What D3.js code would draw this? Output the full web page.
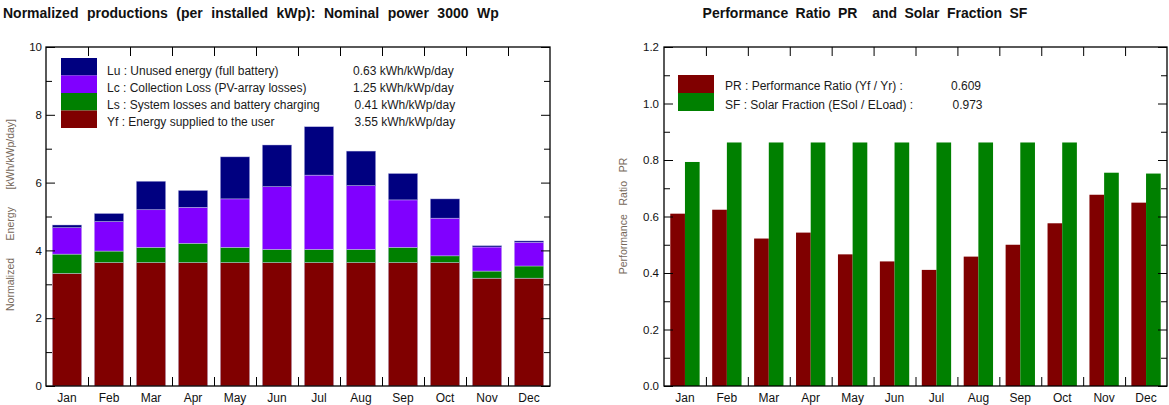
<!DOCTYPE html>
<html>
<head>
<meta charset="utf-8">
<script src="https://cdn.jsdelivr.net/npm/d3@7"></script>
<style>
  html, body { margin: 0; padding: 0; background: #fff; }
  svg { display: block; font-family: "Liberation Sans", Arial, sans-serif; }
  .axis path { display: none; }
  .axis line { stroke: #000; stroke-width: 1; }
  .axis text { font-size: 11.5px; fill: #111; }
</style>
</head>
<body>
<svg id="chart" width="1169" height="405"></svg>
<script>
// Monthly categories
const months = ["Jan","Feb","Mar","Apr","May","Jun","Jul","Aug","Sep","Oct","Nov","Dec"];

// Normalized productions, kWh/kWp/day (stacked from bottom to top)
const yf = [3.32, 3.64, 3.64, 3.64, 3.64, 3.64, 3.64, 3.64, 3.64, 3.64, 3.18, 3.18];
const ls = [0.57, 0.34, 0.45, 0.57, 0.45, 0.39, 0.39, 0.39, 0.45, 0.20, 0.21, 0.36];
const lc = [0.78, 0.87, 1.11, 1.06, 1.43, 1.85, 2.19, 1.88, 1.40, 1.11, 0.71, 0.70];
const lu = [0.08, 0.24, 0.84, 0.50, 1.24, 1.23, 1.43, 1.02, 0.78, 0.57, 0.04, 0.04];

// Performance ratio and solar fraction
const pr = [0.610, 0.624, 0.522, 0.543, 0.466, 0.441, 0.411, 0.458, 0.500, 0.576, 0.677, 0.649];
const sf = [0.793, 0.862, 0.862, 0.862, 0.862, 0.862, 0.862, 0.862, 0.862, 0.862, 0.755, 0.752];

// Legend entries
const stackLegend = [
  { key: "lu", label: "Lu : Unused energy (full battery)", value: "0.63 kWh/kWp/day", color: "#000080" },
  { key: "lc", label: "Lc : Collection Loss (PV-array losses)", value: "1.25 kWh/kWp/day", color: "#8000ff" },
  { key: "ls", label: "Ls : System losses and battery charging", value: "0.41 kWh/kWp/day", color: "#008000" },
  { key: "yf", label: "Yf : Energy supplied to the user", value: "3.55 kWh/kWp/day", color: "#800000" }
];
const ratioLegend = [
  { label: "PR : Performance Ratio (Yf / Yr) :", value: "0.609", color: "#800000" },
  { label: "SF : Solar Fraction (ESol / ELoad) :", value: "0.973", color: "#008000" }
];

const yTicksLeft = [0, 2, 4, 6, 8, 10];
const yMinorLeft = [1, 3, 5, 7, 9];
const yTicksRight = [0, 0.2, 0.4, 0.6, 0.8, 1.0, 1.2];
const yMinorRight = [0.1, 0.3, 0.5, 0.7, 0.9, 1.1];

const svg = d3.select("#chart");
const axisLabelColor = "#76685a";
const legendFont = 12;

// Frame with inward ticks on all four sides
function drawFrame(g, x0, x1, y, majors, minors, fmt, pad) {
  const top = y.range()[1], bot = y.range()[0];
  const xb = d3.scaleLinear().domain([0, 12]).range([x0, x1]);
  const inner = d3.range(1, 12);

  g.append("g").attr("class", "axis").attr("transform", `translate(${x0},0)`)
    .call(d3.axisLeft(y).tickValues(majors).tickSize(-9).tickPadding(pad).tickFormat(fmt));
  g.append("g").attr("class", "axis").attr("transform", `translate(${x0},0)`)
    .call(d3.axisLeft(y).tickValues(minors).tickSize(-6).tickFormat(""));
  g.append("g").attr("class", "axis").attr("transform", `translate(${x1},0)`)
    .call(d3.axisRight(y).tickValues(majors).tickSize(-9).tickFormat(""));
  g.append("g").attr("class", "axis").attr("transform", `translate(${x1},0)`)
    .call(d3.axisRight(y).tickValues(minors).tickSize(-6).tickFormat(""));
  g.append("g").attr("class", "axis").attr("transform", `translate(0,${top})`)
    .call(d3.axisTop(xb).tickValues(inner).tickSize(-9).tickFormat(""));
  g.append("g").attr("class", "axis").attr("transform", `translate(0,${bot})`)
    .call(d3.axisBottom(xb).tickValues(inner).tickSize(-9).tickFormat(""));

  g.append("rect")
    .attr("x", x0).attr("y", top)
    .attr("width", x1 - x0).attr("height", bot - top)
    .attr("fill", "none").attr("stroke", "#000").attr("stroke-width", 1.3);
}

function monthLabels(g, x, bot) {
  g.append("g").attr("class", "axis").attr("transform", `translate(0,${bot})`)
    .call(d3.axisBottom(x).tickSize(0).tickPadding(7))
    .selectAll("text").attr("font-size", 12).style("font-size", "12px");
}

/* ---------- Left: normalized productions ---------- */
{
  const x0 = 46, x1 = 550, top = 47, bot = 386;
  const g = svg.append("g");
  const x = d3.scaleBand().domain(months).range([x0, x1]).paddingInner(0.3).paddingOuter(0.15);
  const y = d3.scaleLinear().domain([0, 10]).range([bot, top]);

  const rows = months.map((m, i) => ({ month: m, yf: yf[i], ls: ls[i], lc: lc[i], lu: lu[i] }));
  const stack = d3.stack().keys(["yf", "ls", "lc", "lu"])(rows);
  const colors = { yf: "#800000", ls: "#008000", lc: "#8000ff", lu: "#000080" };

  g.selectAll("g.layer").data(stack).join("g")
    .attr("class", "layer")
    .attr("fill", d => colors[d.key])
    .selectAll("rect").data(d => d).join("rect")
      .attr("x", d => x(d.data.month))
      .attr("width", x.bandwidth())
      .attr("y", d => y(d[1]))
      .attr("height", d => y(d[0]) - y(d[1]))
      .attr("stroke", "rgba(205,205,240,0.7)")
      .attr("stroke-width", 0.6);

  drawFrame(g, x0, x1, y, yTicksLeft, yMinorLeft, d3.format("d"), 4);
  monthLabels(g, x, bot);

  // Legend
  const boxX = 61, boxY = 58, boxW = 36, rowH = 17.5;
  stackLegend.forEach((d, i) => {
    g.append("rect").attr("x", boxX).attr("y", boxY + i * rowH)
      .attr("width", boxW).attr("height", rowH).attr("fill", d.color);
    g.append("text").attr("x", 107).attr("y", 74.5 + i * 17)
      .attr("font-size", legendFont).attr("fill", "#1a1a1a").text(d.label);
    g.append("text").attr("x", 353 + (i >= 2 ? 1.5 : 0)).attr("y", 74.5 + i * 17)
      .attr("font-size", legendFont).attr("fill", "#1a1a1a").text(d.value);
  });

  // Title
  g.append("text").attr("x", 3).attr("y", 18)
    .attr("font-size", 14).attr("font-weight", "bold").attr("fill", "#111")
    .style("word-spacing", "4.6px")
    .text("Normalized productions (per installed kWp):  Nominal power 3000 Wp");

  // Vertical axis label
  g.append("text")
    .attr("transform", "translate(13.5,215) rotate(-90)")
    .attr("text-anchor", "middle").attr("font-size", 10.5).attr("fill", axisLabelColor)
    .style("white-space", "pre").attr("xml:space", "preserve")
    .text("Normalized      Energy      [kWh/kWp/day]");
}

/* ---------- Right: performance ratio and solar fraction ---------- */
{
  const x0 = 664, x1 = 1167, top = 47, bot = 386;
  const g = svg.append("g");
  const x = d3.scaleBand().domain(months).range([x0, x1]).paddingInner(0.3).paddingOuter(0.15);
  const xs = d3.scaleBand().domain(["pr", "sf"]).range([0, x.bandwidth()]);
  const y = d3.scaleLinear().domain([0, 1.2]).range([bot, top]);

  const rows = months.map((m, i) => ({ month: m, pr: pr[i], sf: sf[i] }));
  const colors = { pr: "#800000", sf: "#008000" };

  g.selectAll("g.month").data(rows).join("g")
    .attr("class", "month")
    .attr("transform", d => `translate(${x(d.month)},0)`)
    .selectAll("rect").data(d => ["pr", "sf"].map(k => ({ key: k, value: d[k] }))).join("rect")
      .attr("x", d => xs(d.key))
      .attr("width", xs.bandwidth())
      .attr("y", d => y(d.value))
      .attr("height", d => bot - y(d.value))
      .attr("fill", d => colors[d.key]);

  drawFrame(g, x0, x1, y, yTicksRight, yMinorRight, d3.format(".1f"), 5);
  monthLabels(g, x, bot);

  // Legend
  const boxX = 678, boxY = 75, boxW = 36, rowH = 18;
  ratioLegend.forEach((d, i) => {
    g.append("rect").attr("x", boxX).attr("y", boxY + i * rowH)
      .attr("width", boxW).attr("height", rowH).attr("fill", d.color);
    g.append("text").attr("x", 725).attr("y", 90 + i * 18.5)
      .attr("font-size", legendFont).attr("fill", "#1a1a1a").text(d.label);
    g.append("text").attr("x", 951 + i * 1.5).attr("y", 90 + i * 18.5)
      .attr("font-size", legendFont).attr("fill", "#1a1a1a").text(d.value);
  });

  // Title
  g.append("text").attr("x", 865).attr("y", 18).attr("text-anchor", "middle")
    .attr("font-size", 14).attr("font-weight", "bold").attr("fill", "#111")
    .style("white-space", "pre").attr("xml:space", "preserve")
    .style("word-spacing", "3.5px")
    .text("Performance Ratio PR  and Solar Fraction SF");

  // Vertical axis label
  g.append("text")
    .attr("transform", "translate(626.5,216) rotate(-90)")
    .attr("text-anchor", "middle").attr("font-size", 10.5).attr("fill", axisLabelColor)
    .style("white-space", "pre").attr("xml:space", "preserve")
    .text("Performance   Ratio   PR");
}
</script>
</body>
</html>
